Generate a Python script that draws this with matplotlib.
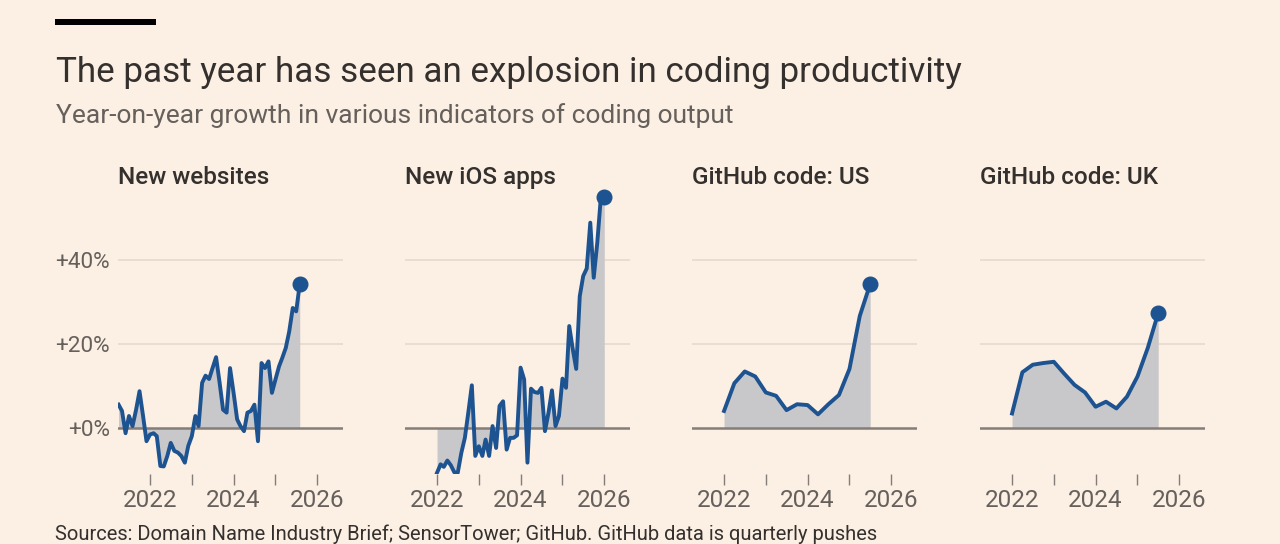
#!/usr/bin/env python3
"""Small multiples: year-on-year growth in coding output indicators."""
import matplotlib

matplotlib.use("Agg")
import matplotlib.pyplot as plt
import pandas as pd
from matplotlib.patches import Rectangle

BG = "#fcefe3"
LINE = "#1d5390"
FILL = "#c8c7ca"
ZERO = "#857d78"
GRID = "#e6d9cd"
MUTED = "#66605c"
DARK = "#33302e"

plt.rcParams["font.family"] = ["Roboto", "DejaVu Sans"]

# monthly, Apr 2021 - Aug 2025
websites_dates = pd.date_range("2021-04-01", periods=53, freq="MS")
websites_growth = [
    5.5, 4.0, -1.3, 2.8, 0.4, 4.3, 8.7, 2.8, -3.2, -1.6, -1.3, -2.0,
    -9.1, -9.2, -6.7, -3.6, -5.5, -5.9, -6.7, -8.3, -4.3, -2.0, 2.8, 0.4,
    10.7, 12.4, 11.6, 14.2, 16.8, 10.7, 4.3, 3.6, 14.2, 8.3, 2.0, 0.4,
    -0.8, 3.6, 4.0, 5.5, -3.2, 15.4, 14.2, 15.8, 8.3, 11.5, 14.6, 16.6,
    19.0, 22.9, 28.5, 27.7, 34.2,
]

# monthly, Jan 2022 - Jan 2026
ios_dates = pd.date_range("2022-01-01", periods=49, freq="MS")
ios_growth = [
    -10.7, -8.7, -9.3, -7.8, -8.9, -10.6, -10.7, -6.0, -2.4, 3.6, 10.1, -6.7,
    -4.4, -6.7, -2.8, -6.7, 0.4, -4.8, 5.2, 6.3, -5.2, -2.4, -2.4, -1.8,
    14.3, 11.5, -8.3, 9.3, 8.5, 8.3, 9.5, -0.8, 3.6, 8.9, 0.4, 2.8,
    11.7, 9.5, 24.2, 18.7, 14.0, 31.3, 36.1, 37.9, 48.8, 35.7, 44.0, 54.4,
    54.8,
]

# quarterly, Q1 2022 - Q3 2025
github_dates = pd.date_range("2022-01-01", periods=15, freq="QS")
github_us = [4.0, 10.6, 13.4, 12.2, 8.4, 7.6, 4.2, 5.6, 5.4, 3.2, 5.6, 7.8, 14.0, 26.6, 34.2]
github_uk = [3.4, 13.2, 15.0, 15.4, 15.7, 12.9, 10.2, 8.4, 5.0, 6.2, 4.6, 7.4, 12.2, 19.0, 27.3]

panel_titles = ["New websites", "New iOS apps", "GitHub code: US", "GitHub code: UK"]
panel_dates = [websites_dates, ios_dates, github_dates, github_dates]
panel_values = [websites_growth, ios_growth, github_us, github_uk]

years = [2022, 2023, 2024, 2025, 2026]
year_labels = ["2022", "", "2024", "", "2026"]
y_ticks = [0, 20, 40]
y_labels = ["+0%", "+20%", "+40%"]

W, H = 1280, 544
fig = plt.figure(figsize=(W / 100, H / 100), dpi=100, facecolor=BG)

# FT-style black bar above the headline
fig.add_artist(Rectangle((55 / W, 1 - 25 / H), 101 / W, 6 / H,
                         transform=fig.transFigure, color="black", lw=0))
fig.text(56 / W, 1 - 82 / H, "The past year has seen an explosion in coding productivity",
         fontsize=25.2, color=DARK, va="baseline")
fig.text(56 / W, 1 - 123 / H, "Year-on-year growth in various indicators of coding output",
         fontsize=19, color=MUTED, va="baseline")

lefts = [118, 405, 692, 980]
ax_w, ax_top, ax_bot = 225, 184, 474

for i, (title, dates, vals) in enumerate(zip(panel_titles, panel_dates, panel_values)):
    ax = fig.add_axes([lefts[i] / W, 1 - ax_bot / H, ax_w / W, (ax_bot - ax_top) / H])
    ax.set_facecolor("none")
    for s in ax.spines.values():
        s.set_visible(False)

    for g in y_ticks[1:]:
        ax.axhline(g, color=GRID, lw=1.2, zorder=0)
    ax.fill_between(dates, vals, 0, color=FILL, lw=0, zorder=1)
    ax.axhline(0, color=ZERO, lw=1.8, zorder=2)
    ax.plot(dates, vals, color=LINE, lw=2.8, zorder=3)
    ax.plot(dates[-1], vals[-1], "o", color=LINE, ms=10.5, zorder=4)

    ax.set_ylim(-11, 58)
    ax.set_xlim(pd.Timestamp("2021-03-27"), pd.Timestamp("2026-08-14"))

    ax.set_xticks([pd.Timestamp(f"{y}-01-01") for y in years])
    ax.set_xticklabels(year_labels)
    ax.tick_params(axis="x", length=8, width=1, color=ZERO, pad=3,
                   labelsize=17.5, labelcolor=MUTED)

    ax.set_yticks(y_ticks)
    if i == 0:
        ax.set_yticklabels(y_labels)
    else:
        ax.set_yticklabels([])
    ax.tick_params(axis="y", length=0, pad=6, labelsize=16.2, labelcolor=MUTED)

    fig.text(lefts[i] / W, 1 - 184 / H, title, fontsize=17.5, fontweight="medium",
             color=DARK, va="baseline")

fig.text(55 / W, 1 - 524 / H,
         "Sources: Domain Name Industry Brief; SensorTower; GitHub. GitHub data is quarterly pushes",
         fontsize=14.5, color=DARK, va="top")

fig.savefig("out.png", dpi=100, facecolor=BG)
plt.close(fig)
